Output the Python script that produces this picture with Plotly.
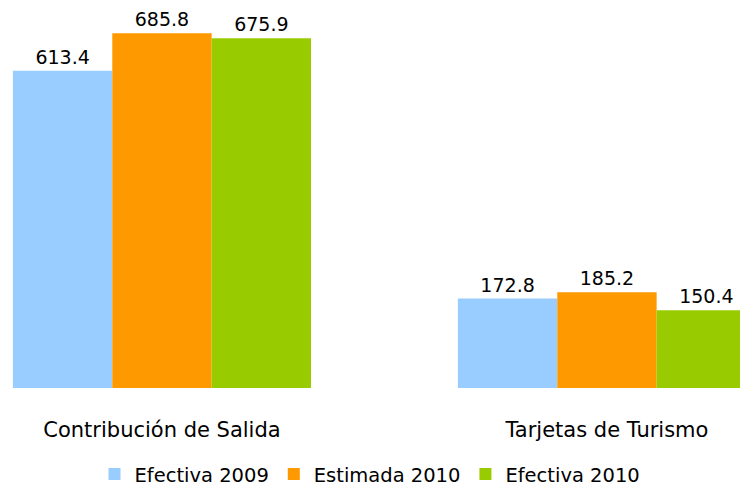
import plotly.graph_objects as go

categories = ["Contribución de Salida", "Tarjetas de Turismo"]
series_names = ["Efectiva 2009", "Estimada 2010", "Efectiva 2010"]
efectiva_2009 = [613.4, 172.8]
estimada_2010 = [685.8, 185.2]
efectiva_2010 = [675.9, 150.4]
colors = ["#99CCFF", "#FF9900", "#99CC00"]

FONT = "DejaVu Sans"

fig = go.Figure()
for name, vals, col in zip(series_names, [efectiva_2009, estimada_2010, efectiva_2010], colors):
    fig.add_trace(go.Bar(
        name=name,
        x=categories,
        y=vals,
        marker=dict(color=col, line=dict(width=0)),
        text=[f"{v:.1f}" for v in vals],
        textposition="outside",
        textfont=dict(family=FONT, size=19, color="#000000"),
        cliponaxis=False,
    ))

fig.update_layout(
    width=740,
    height=488,
    margin=dict(l=0, r=0, t=0, b=100, autoexpand=False),
    paper_bgcolor="white",
    plot_bgcolor="white",
    barmode="group",
    bargap=0.33,
    bargroupgap=0,
    showlegend=True,
    legend=dict(
        orientation="h",
        x=0.5, xanchor="center",
        y=-0.172, yanchor="top",
        font=dict(family=FONT, size=19.5, color="#000000"),
        itemwidth=30,
        tracegroupgap=0,
    ),
    xaxis=dict(
        range=[-0.364, 1.299],
        showgrid=False,
        showline=False,
        zeroline=False,
        ticks="",
        ticklabelstandoff=27,
        tickfont=dict(family=FONT, size=21, color="#000000"),
    ),
    yaxis=dict(
        range=[0, 750],
        visible=False,
        showgrid=False,
        zeroline=False,
    ),
)

fig.write_html("out.html")
